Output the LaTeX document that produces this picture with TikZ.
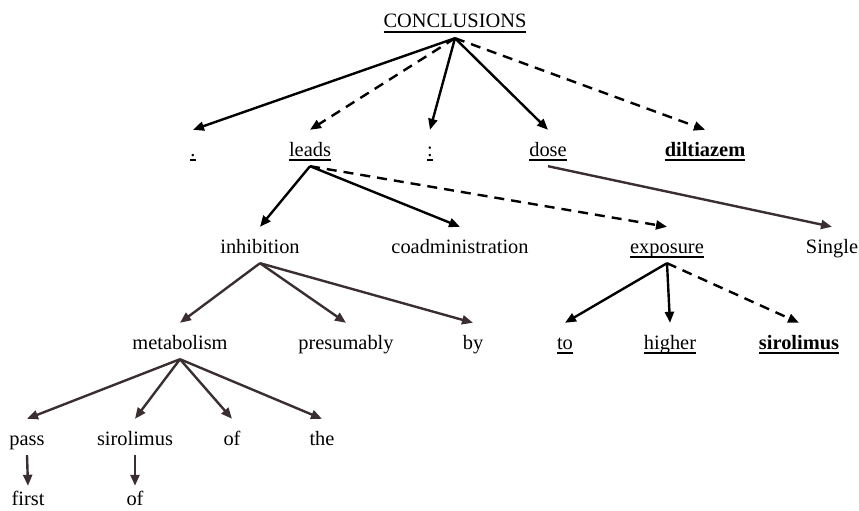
\documentclass[tikz,border=0pt]{standalone}
\usepackage{fontspec}
\setmainfont{Liberation Serif}
\usetikzlibrary{arrows.meta}
\newcommand\myul[1]{\setbox0\hbox{#1}\rlap{\rule[-4.8pt]{\wd0}{1.8pt}}\box0}
\definecolor{edgebrown}{HTML}{3A2E30}
\begin{document}
\begin{tikzpicture}[x=1pt,y=-1pt,
  word/.style={font=\fontsize{20.4}{24}\selectfont, anchor=base, text height=21pt, text depth=5pt, inner ysep=5pt, inner xsep=0pt},
  dep/.style={-{Triangle[length=11pt,width=9pt]}, line width=2.4pt, black},
  depd/.style={dep, dash pattern=on 10pt off 7pt},
  dep2/.style={dep, draw=edgebrown, fill=edgebrown},
]
\useasboundingbox (0,0) rectangle (859,511);
\node[word] (conc) at (455,28) {\myul{CONCLUSIONS}};
\node[word] (dot) at (193,156) {\myul{.}};
\node[word] (leads) at (310,156) {\myul{leads}};
\node[word] (colon) at (430,156) {\myul{:}};
\node[word] (dose) at (548,156) {\myul{dose}};
\node[word] (dilt) at (705,156) {\myul{\textbf{diltiazem}}};
\node[word] (inhib) at (260,253) {inhibition};
\node[word] (coad) at (460,253) {coadministration};
\node[word] (expo) at (667,253) {\myul{exposure}};
\node[word] (single) at (832,253) {Single};
\node[word] (metab) at (180,349) {metabolism};
\node[word] (presum) at (346,349) {presumably};
\node[word] (by) at (473,349) {by};
\node[word] (to) at (565,349) {\myul{to}};
\node[word] (higher) at (670,349) {\myul{higher}};
\node[word] (siro) at (799,349) {\myul{\textbf{sirolimus}}};
\node[word] (pass) at (27,445) {pass};
\node[word] (siro2) at (135,445) {sirolimus};
\node[word] (of1) at (232,445) {of};
\node[word] (the) at (322,445) {the};
\node[word] (first) at (28,505) {first};
\node[word] (of2) at (135,505) {of};
\draw[dep] (conc.south) -- (dot.north);
\draw[depd] (conc.south) -- (leads.north);
\draw[dep] (conc.south) -- (colon.north);
\draw[dep] (conc.south) -- (dose.north);
\draw[depd] (conc.south) -- (dilt.north);
\draw[dep] (leads.south) -- (inhib.north);
\draw[dep] (leads.south) -- (coad.north);
\draw[depd] (leads.south) -- (expo.north);
\draw[dep2] (dose.south) -- (single.north);
\draw[dep2] (inhib.south) -- (metab.north);
\draw[dep2] (inhib.south) -- (presum.north);
\draw[dep2] (inhib.south) -- (by.north);
\draw[dep] (expo.south) -- (to.north);
\draw[dep] (expo.south) -- (higher.north);
\draw[depd] (expo.south) -- (siro.north);
\draw[dep2] (metab.south) -- (pass.north);
\draw[dep2] (metab.south) -- (siro2.north);
\draw[dep2] (metab.south) -- (of1.north);
\draw[dep2] (metab.south) -- (the.north);
\draw[dep2] (pass.south) -- ([yshift=-7pt]first.north);
\draw[dep2] (siro2.south) -- ([yshift=-7pt]of2.north);
\end{tikzpicture}
\end{document}
